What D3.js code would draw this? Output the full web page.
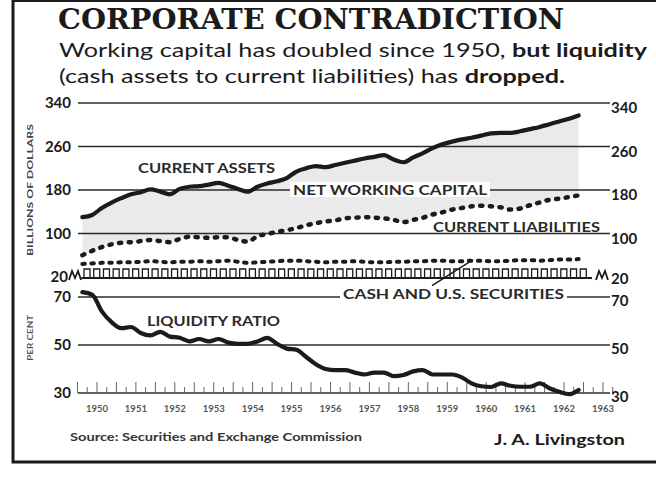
<!DOCTYPE html>
<html>
<head>
<meta charset="utf-8">
<script src="https://cdn.jsdelivr.net/npm/d3@7"></script>
<style>
  body { margin: 0; background: #fff; }
  svg { display: block; }
</style>
</head>
<body>
<div id="chart"></div>
<script>
// quarterly readings, 1950 Q1 .. 1962 Q4 (billions of dollars / per cent)
const startYear = 1950;
const years = ["1950", "1951", "1952", "1953", "1954", "1955", "1956", "1957", "1958", "1959", "1960", "1961", "1962", "1963"];
const currentAssets = [130, 134, 147, 157, 165, 172, 176, 181, 177, 172,
    182, 186, 187, 190, 193, 188, 182, 177, 186, 192,
    196, 202, 214, 220, 224, 222, 226, 230, 234, 238,
    241, 244, 236, 231, 240, 248, 257, 264, 269, 273,
    276, 280, 284, 285, 285, 288, 292, 296, 301, 306,
    311, 317];
const currentLiabilities = [60, 68, 75, 80, 83, 84, 86, 88, 86, 84,
    90, 94, 93, 92, 93, 93, 88, 85, 95, 99,
    103, 106, 110, 115, 119, 122, 124, 128, 129, 130,
    129, 128, 125, 121, 125, 129, 135, 139, 144, 147,
    150, 151, 150, 148, 144, 146, 152, 157, 162, 164,
    167, 170];
const cashSecurities = [44, 45, 46, 46, 47, 47, 48, 49, 48, 47,
    48, 48, 49, 48, 49, 50, 48, 46, 47, 48,
    49, 50, 50, 49, 48, 47, 48, 48, 49, 48,
    47, 47, 48, 48, 49, 49, 50, 50, 49, 49,
    50, 50, 49, 49, 50, 51, 51, 50, 51, 52,
    52, 53];
const liquidityRatio = [72, 71, 64, 59.5, 57, 57.5, 55, 54, 55.5, 53.5,
    53, 51.5, 52.5, 51.5, 52.5, 51, 50.5, 50.5, 51.5, 53,
    50.5, 48.5, 48, 45, 42, 40, 39.5, 39.5, 38.5, 37.7,
    38.5, 38.5, 37, 37.5, 39, 39.5, 37.7, 37.7, 37.7, 36.5,
    34, 32.8, 32.5, 34, 33, 32.6, 32.6, 34, 32, 30.5,
    29.5, 31.3];
const dollarTicks = [340, 260, 180, 100, 20];
const percentTicks = [70, 50, 30];

const W = 656, H = 479;
const ink = "#1b1b1b";
const labelFont = "Lato, 'DejaVu Sans', sans-serif";

// quarter midpoints
const quarterTime = i => startYear + 0.125 + i * 0.25;

const x = d3.scaleLinear().domain([1950, 1963]).range([77.5, 583.5]);
const yTop = d3.scaleLinear().domain([20, 340]).range([277, 103]);
const yLow = d3.scaleLinear().domain([30, 70]).range([393, 297]);
const gridLeft = 78, gridRight = 610;

const svg = d3.select("#chart").append("svg")
    .attr("width", W).attr("height", H)
    .style("background", "#fff");

// frame
svg.append("path")
    .attr("d", `M13,0 V462 H656`)
    .attr("fill", "none").attr("stroke", ink).attr("stroke-width", 3);
svg.append("line")
    .attr("x1", 13).attr("x2", 656).attr("y1", 1).attr("y2", 1)
    .attr("stroke", ink).attr("stroke-width", 2);

// title and deck
svg.append("text")
    .attr("x", 58).attr("y", 29)
    .attr("textLength", 506).attr("lengthAdjust", "spacingAndGlyphs")
    .style("font-family", "'DejaVu Serif', serif")
    .style("font-weight", 700).style("font-size", "27px")
    .attr("fill", ink)
    .text("CORPORATE CONTRADICTION");

const deck = [
    {y: 57, len: 588, parts: [["Working capital has doubled since 1950, ", 400], ["but liquidity", 700]]},
    {y: 83, len: 506, parts: [["(cash assets to current liabilities) has ", 400], ["dropped.", 700]]}
];
deck.forEach(line => {
    const t = svg.append("text")
        .attr("x", 59).attr("y", line.y)
        .attr("textLength", line.len).attr("lengthAdjust", "spacingAndGlyphs")
        .style("font-family", labelFont).style("font-size", "19px")
        .attr("fill", ink);
    line.parts.forEach(p => t.append("tspan").style("font-weight", p[1]).text(p[0]));
});

// net working capital shading
const area = d3.area()
    .x((d, i) => x(quarterTime(i)))
    .y0((d, i) => yTop(currentLiabilities[i]))
    .y1(d => yTop(d))
    .curve(d3.curveMonotoneX);
svg.append("path")
    .datum(currentAssets)
    .attr("d", area)
    .attr("fill", "#eaeaea");

// gridlines
const grid = svg.append("g").attr("stroke", "#2a2a2a").attr("stroke-width", 1.3);
dollarTicks.filter(v => v !== 20).forEach(v => {
    grid.append("line").attr("x1", gridLeft).attr("x2", gridRight)
        .attr("y1", yTop(v)).attr("y2", yTop(v));
});
percentTicks.forEach(v => {
    grid.append("line").attr("x1", gridLeft).attr("x2", gridRight)
        .attr("y1", yLow(v)).attr("y2", yLow(v))
        .attr("stroke-width", v === 30 ? 1.6 : 1.3);
});

// ruler along the bottom of the dollar panel
const ruler = svg.append("g").attr("fill", "none").attr("stroke", ink);
ruler.append("line")
    .attr("x1", x(1950.1)).attr("x2", gridRight - 18)
    .attr("y1", yTop(20) + 1).attr("y2", yTop(20) + 1)
    .attr("stroke-width", 2.2);
d3.range(0, 52).forEach(i => {
    const x0 = x(startYear + i * 0.25) + 6.5, x1 = x0 + 6;
    ruler.append("path")
        .attr("d", `M${x0},${yTop(20) + 1} V${yTop(20) - 8} H${x1} V${yTop(20) + 1}`)
        .attr("stroke-width", 1.3);
});
const zigzag = x0 => `M${x0},${yTop(20) + 3} L${x0 + 3},${yTop(20) - 6} L${x0 + 6},${yTop(20) + 1} L${x0 + 9},${yTop(20) - 6} L${x0 + 12},${yTop(20) + 3}`;
ruler.append("path").attr("d", zigzag(69)).attr("stroke-width", 1.8);
ruler.append("path").attr("d", zigzag(596)).attr("stroke-width", 1.8);

// ticks along the percent baseline
const ticks = svg.append("g").attr("stroke", "#666").attr("stroke-width", 1);
d3.range(0, 56).forEach(k => {
    const h = k % 2 === 0 ? 11 : 6;
    ticks.append("line")
        .attr("x1", x(startYear + k * 0.25)).attr("x2", x(startYear + k * 0.25))
        .attr("y1", yLow(30)).attr("y2", yLow(30) - h);
});

// series
const topLine = d3.line()
    .x((d, i) => x(quarterTime(i)))
    .y(d => yTop(d))
    .curve(d3.curveMonotoneX);
const lowLine = d3.line()
    .x((d, i) => x(quarterTime(i)))
    .y(d => yLow(d))
    .curve(d3.curveMonotoneX);

svg.append("path").datum(currentAssets)
    .attr("d", topLine)
    .attr("fill", "none").attr("stroke", ink)
    .attr("stroke-width", 4.2).attr("stroke-linejoin", "round").attr("stroke-linecap", "round");

svg.append("path").datum(currentLiabilities)
    .attr("d", topLine)
    .attr("fill", "none").attr("stroke", ink)
    .attr("stroke-width", 4.5).attr("stroke-dasharray", "2.2 7.5").attr("stroke-linecap", "round");

svg.append("path").datum(cashSecurities)
    .attr("d", topLine)
    .attr("fill", "none").attr("stroke", ink)
    .attr("stroke-width", 4).attr("stroke-dasharray", "2.5 6.5").attr("stroke-linecap", "round");

svg.append("path").datum(liquidityRatio)
    .attr("d", lowLine)
    .attr("fill", "none").attr("stroke", ink)
    .attr("stroke-width", 4.2).attr("stroke-linejoin", "round").attr("stroke-linecap", "round");

// axis labels
const axisText = (xPos, yPos, txt, anchor) => svg.append("text")
    .attr("x", xPos).attr("y", yPos)
    .attr("text-anchor", anchor).attr("dy", "0.36em")
    .style("font-family", labelFont).style("font-weight", 700).style("font-size", "15px")
    .attr("fill", ink).text(txt);
dollarTicks.forEach(v => {
    axisText(v === 20 ? 68 : 71, yTop(v), v, "end");
    axisText(611, yTop(v) + (v === 20 ? 2 : 5), v, "start");
});
percentTicks.forEach(v => {
    axisText(71, yLow(v), v, "end");
    axisText(611, yLow(v) + 4, v, "start");
});

svg.append("text")
    .attr("transform", `translate(33,${yTop(180)}) rotate(-90)`)
    .attr("text-anchor", "middle")
    .attr("textLength", 132).attr("lengthAdjust", "spacingAndGlyphs")
    .style("font-family", labelFont).style("font-weight", 700).style("font-size", "8px")
    .attr("fill", "#444").text("BILLIONS OF DOLLARS");
svg.append("text")
    .attr("transform", `translate(33,${yLow(53)}) rotate(-90)`)
    .attr("text-anchor", "middle")
    .attr("textLength", 46).attr("lengthAdjust", "spacingAndGlyphs")
    .style("font-family", labelFont).style("font-weight", 700).style("font-size", "8px")
    .attr("fill", "#555").text("PER CENT");

// year labels
years.forEach(yr => {
    svg.append("text")
        .attr("x", x(+yr + 0.5)).attr("y", 412)
        .attr("text-anchor", "middle")
        .style("font-family", labelFont).style("font-weight", 700).style("font-size", "9.5px")
        .attr("fill", "#555").text(yr);
});

// series labels
const seriesLabels = [
    {text: "CURRENT ASSETS", x: 138, y: yTop(219), len: 137, bg: false},
    {text: "NET WORKING CAPITAL", x: 293, y: yTop(180), len: 194, bg: true},
    {text: "CURRENT LIABILITIES", x: 433, y: yTop(112), len: 167, bg: false},
    {text: "CASH AND U.S. SECURITIES", x: 343, y: yLow(71), len: 221, bg: true},
    {text: "LIQUIDITY RATIO", x: 147, y: yLow(60), len: 133, bg: false}
];

// leader from cash label to its line
svg.append("line")
    .attr("x1", 432).attr("y1", yLow(71) - 9)
    .attr("x2", x(quarterTime(40))).attr("y2", yTop(cashSecurities[40]))
    .attr("stroke", ink).attr("stroke-width", 1.4);

seriesLabels.forEach(l => {
    if (l.bg) {
        svg.append("rect")
            .attr("x", l.x - 3).attr("y", l.y - 8)
            .attr("width", l.len + 6).attr("height", 15)
            .attr("fill", "#fff");
    }
    svg.append("text")
        .attr("x", l.x).attr("y", l.y).attr("dy", "0.36em")
        .attr("textLength", l.len).attr("lengthAdjust", "spacingAndGlyphs")
        .style("font-family", labelFont).style("font-weight", 700).style("font-size", "13px")
        .attr("fill", "#2a2a2a").text(l.text);
});

// credits
svg.append("text")
    .attr("x", 70).attr("y", 441)
    .attr("textLength", 292).attr("lengthAdjust", "spacingAndGlyphs")
    .style("font-family", labelFont).style("font-weight", 700).style("font-size", "10.5px")
    .attr("fill", "#333").text("Source: Securities and Exchange Commission");
svg.append("text")
    .attr("x", 494).attr("y", 445)
    .attr("textLength", 131).attr("lengthAdjust", "spacingAndGlyphs")
    .style("font-family", labelFont).style("font-weight", 700).style("font-size", "16px")
    .attr("fill", ink).text("J. A. Livingston");
</script>
</body>
</html>
